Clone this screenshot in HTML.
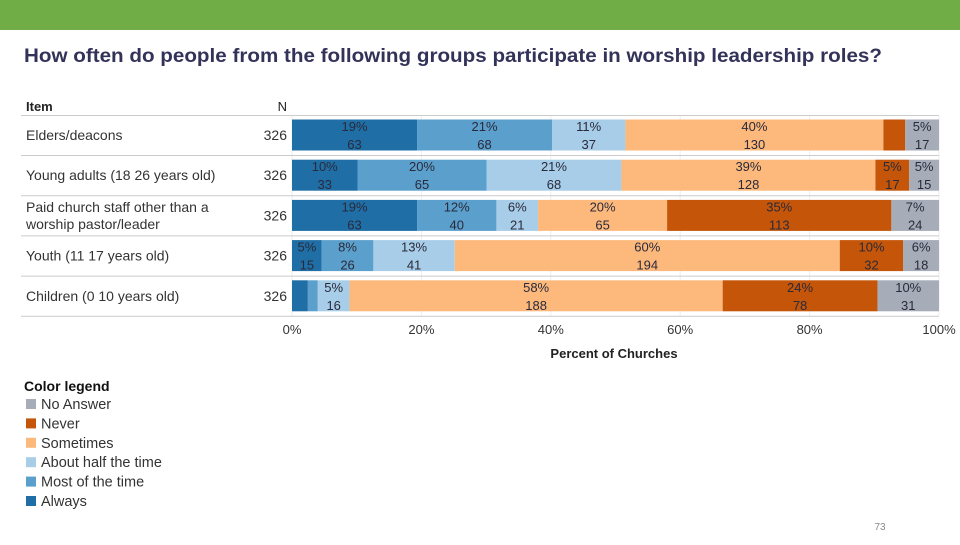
<!DOCTYPE html>
<html><head><meta charset="utf-8"><style>
body{margin:0;width:960px;height:540px;background:#fff;overflow:hidden;font-family:"Liberation Sans",sans-serif}
</style></head><body>
<svg id="c" width="960" height="540" xmlns="http://www.w3.org/2000/svg">
<rect x="0" y="0" width="960" height="30" fill="#70ad47"/>
<text x="24" y="62" font-size="19" font-weight="bold" fill="#33335a" textLength="858" lengthAdjust="spacingAndGlyphs">How often do people from the following groups participate in worship leadership roles?</text>
<text x="26" y="111" font-size="13" font-weight="bold" fill="#222">Item</text>
<text x="287" y="111" font-size="13" fill="#222" text-anchor="end">N</text>
<text x="614" y="358" font-size="13" font-weight="bold" fill="#222" text-anchor="middle">Percent of Churches</text>
<text x="24" y="391" font-size="14" font-weight="bold" fill="#111">Color legend</text>
<text x="880" y="530" font-size="10" fill="#888" text-anchor="middle">73</text>
<g id="plot"></g>
</svg>
<script>
const categories=["Elders/deacons","Young adults (18 26 years old)","Paid church staff other than a|worship pastor/leader","Youth (11 17 years old)","Children (0 10 years old)"];
const nValues=[326,326,326,326,326];
const seriesNames=["Always","Most of the time","About half the time","Sometimes","Never","No Answer"];
const always=[63,33,63,15,8];
const most=[68,65,40,26,5];
const half=[37,68,21,41,16];
const sometimes=[130,128,65,194,188];
const never=[11,17,113,32,78];
const noAnswer=[17,15,24,18,31];
const tickLabels=["0%","20%","40%","60%","80%","100%"];
const tickValues=[0,20,40,60,80,100];
const colors=["#1f6ea6","#5b9fcc","#a8cde8","#fdb97c","#c55508","#a6adb9"];
const series=[always,most,half,sometimes,never,noAnswer];
const NS="http://www.w3.org/2000/svg";
const g=document.getElementById('plot');
const x0=292,x1=939;
function xs(p){return x0+(x1-x0)*p/100;}
function ys(i){return 135+i*40.2;}
function mk(t,a){const e=document.createElementNS(NS,t);for(const k in a)e.setAttribute(k,a[k]);g.appendChild(e);return e;}
tickValues.forEach((v,i)=>{
 const l=mk('line',{x1:xs(v),x2:xs(v),y1:116,y2:316,stroke:'#eee','stroke-width':1});
 
 
 const t=mk('text',{x:xs(v),y:334,'font-size':13,fill:'#333','text-anchor':'middle'});
 t.textContent=tickLabels[i];
 
 
});
const hl=mk('line',{x1:21,x2:939,y1:115.5,y2:115.5,stroke:'#ccc'});


categories.forEach((c,i)=>{
 const cy=ys(i);
 const sep=mk('line',{x1:21,x2:939,y1:cy+20.5,y2:cy+20.5,stroke:'#ccc'});
 
 
 const parts=c.split('|');
 parts.forEach((p,k)=>{
  const t=mk('text',{x:26,y:cy+5+(parts.length>1?(k-0.5)*17:0),'font-size':14,fill:'#333'});
  t.textContent=p;
  
  
 });
 const n=mk('text',{x:287,y:cy+5,'font-size':14,fill:'#333','text-anchor':'end'});
 n.textContent=nValues[i];
 
 
 let cum=0;const tot=nValues[i];
 series.forEach((s,j)=>{
  const v=s[i];const a=xs(cum/tot*100),b=xs((cum+v)/tot*100);cum+=v;
  const r=mk('rect',{x:a,y:cy-15.5,width:b-a,height:31,fill:colors[j]});
  
  
  if(b-a>25){
   const pc=mk('text',{x:(a+b)/2,y:cy-4,'font-size':13,fill:'#2a2a3a','text-anchor':'middle'});
   pc.textContent=Math.round(v/tot*100)+'%';
   
   
   const ct=mk('text',{x:(a+b)/2,y:cy+14,'font-size':13,fill:'#2a2a3a','text-anchor':'middle'});
   ct.textContent=v;
   
   
  }
 });
});
for(let k=0;k<6;k++){
 const j=5-k;const y=405+k*19.4;
 const r=mk('rect',{x:26,y:y-6,width:10,height:10,fill:colors[j]});
 
 
 const t=mk('text',{x:41,y:y+4,'font-size':14.5,fill:'#333'});
 t.textContent=seriesNames[j];
 
 
}
</script>
</body></html>
